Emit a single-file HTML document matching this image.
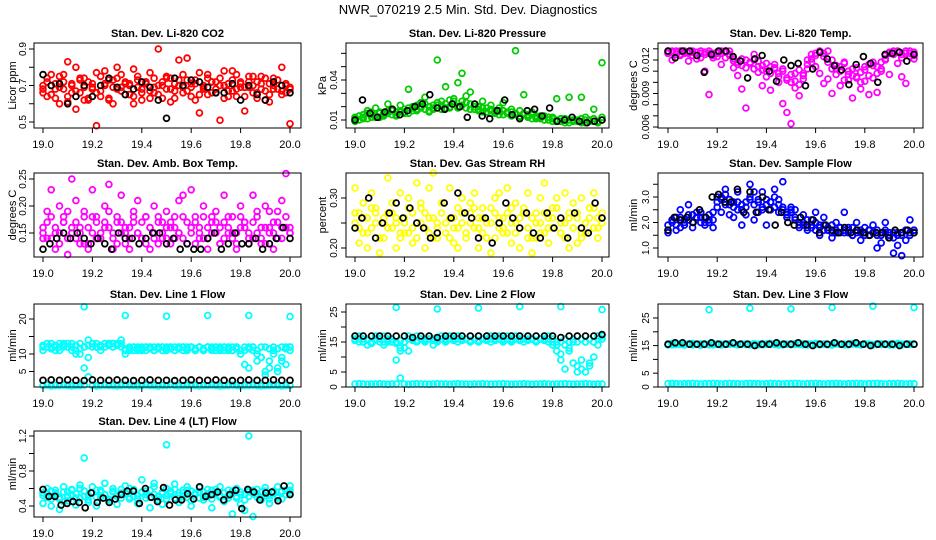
<!DOCTYPE html>
<html><head><meta charset="utf-8"><style>
html,body{margin:0;padding:0;background:#fff;}
svg{display:block;font-family:"Liberation Sans",sans-serif;}
</style></head><body>
<svg id="chart" width="936" height="540" viewBox="0 0 936 540" xmlns="http://www.w3.org/2000/svg">
<rect x="0" y="0" width="936" height="540" fill="#fff"/>
<text x="468" y="14" text-anchor="middle" font-size="13">NWR_070219  2.5 Min. Std. Dev. Diagnostics</text>
</svg>
<script>
// ---- data ----
const xTicks = [19.0, 19.2, 19.4, 19.6, 19.8, 20.0];
const xTickLabels = ["19.0", "19.2", "19.4", "19.6", "19.8", "20.0"];

const co2A = [0.66,0.72,0.70,0.63,0.75,0.68,0.61,0.71,0.80,0.66,0.74,0.62,0.69,0.77,0.64,0.70,0.73,0.60,0.68,0.76,0.71,0.65,0.79,0.69,0.62,0.72,0.67,0.74,0.70,0.63,0.75,0.68,0.71,0.84,0.66,0.73,0.69,0.62,0.77,0.70,0.65,0.72,0.68,0.74,0.63,0.71,0.67,0.76,0.69,0.64,0.72,0.70,0.66,0.75,0.62,0.71,0.68,0.73,0.65,0.70,0.69];
const co2B = [0.70,0.64,0.76,0.68,0.60,0.72,0.83,0.66,0.57,0.74,0.69,0.63,0.71,0.48,0.67,0.78,0.62,0.73,0.80,0.69,0.65,0.71,0.60,0.75,0.68,0.72,0.63,0.66,0.90,0.70,0.74,0.61,0.67,0.73,0.69,0.85,0.64,0.71,0.55,0.68,0.76,0.72,0.66,0.51,0.70,0.64,0.78,0.68,0.72,0.56,0.69,0.75,0.63,0.71,0.67,0.61,0.74,0.68,0.80,0.66,0.49];
const co2C = [0.68,0.74,0.65,0.71,0.69,0.76,0.64,0.70,0.67,0.73,0.62,0.72,0.68,0.66,0.75,0.71,0.63,0.69,0.74,0.67,0.72,0.70,0.64,0.73,0.66,0.71,0.77,0.69,0.65,0.72,0.68,0.74,0.63,0.70,0.76,0.67,0.71,0.73,0.65,0.69,0.74,0.66,0.72,0.70,0.78,0.67,0.73,0.64,0.71,0.69,0.75,0.66,0.72,0.68,0.74,0.65,0.70,0.73,0.67,0.71,0.68];
const co2K = [0.76,0.70,0.71,0.60,0.64,0.70,0.64,0.70,0.74,0.69,0.65,0.68,0.72,0.69,0.62,0.52,0.74,0.70,0.73,0.72,0.69,0.66,0.66,0.71,0.62,0.70,0.65,0.62,0.72,0.70,0.66];

const prA = [0.012,0.010,0.014,0.011,0.016,0.013,0.012,0.015,0.017,0.014,0.013,0.016,0.018,0.015,0.019,0.017,0.020,0.018,0.016,0.019,0.021,0.018,0.022,0.020,0.024,0.019,0.021,0.023,0.018,0.020,0.017,0.019,0.016,0.018,0.015,0.017,0.014,0.016,0.013,0.015,0.012,0.014,0.013,0.011,0.013,0.012,0.010,0.012,0.011,0.009,0.011,0.010,0.008,0.010,0.009,0.011,0.008,0.010,0.009,0.008,0.012];
const prB = [0.009,0.013,0.011,0.017,0.012,0.019,0.015,0.013,0.022,0.017,0.014,0.021,0.016,0.033,0.020,0.018,0.023,0.027,0.017,0.021,0.055,0.024,0.035,0.019,0.026,0.038,0.045,0.028,0.031,0.022,0.018,0.024,0.016,0.021,0.017,0.019,0.023,0.015,0.018,0.062,0.017,0.029,0.014,0.016,0.011,0.013,0.010,0.012,0.009,0.026,0.011,0.008,0.027,0.010,0.009,0.027,0.012,0.010,0.018,0.009,0.053];
const prC = [0.011,0.013,0.012,0.015,0.014,0.012,0.016,0.014,0.015,0.018,0.016,0.017,0.015,0.019,0.017,0.021,0.019,0.022,0.020,0.018,0.023,0.021,0.019,0.025,0.022,0.020,0.024,0.019,0.022,0.018,0.020,0.016,0.019,0.017,0.016,0.014,0.017,0.015,0.016,0.014,0.013,0.015,0.012,0.014,0.012,0.011,0.013,0.010,0.012,0.010,0.009,0.011,0.010,0.009,0.010,0.008,0.010,0.009,0.011,0.008,0.010];
const prK = [0.010,0.025,0.015,0.012,0.016,0.018,0.014,0.017,0.020,0.022,0.029,0.019,0.018,0.022,0.020,0.012,0.022,0.013,0.011,0.017,0.025,0.014,0.011,0.017,0.018,0.013,0.019,0.009,0.010,0.012,0.009,0.008,0.009,0.010];

const tmA = [0.0128,0.0127,0.0125,0.0128,0.0126,0.0127,0.0128,0.0124,0.0122,0.0127,0.0128,0.0126,0.0123,0.0128,0.0127,0.0125,0.0121,0.0118,0.0115,0.0120,0.0117,0.0112,0.0119,0.0115,0.0110,0.0114,0.0116,0.0108,0.0112,0.0104,0.0100,0.0108,0.0098,0.0103,0.0112,0.0118,0.0124,0.0127,0.0126,0.0128,0.0120,0.0115,0.0110,0.0117,0.0107,0.0112,0.0104,0.0109,0.0114,0.0106,0.0118,0.0108,0.0112,0.0121,0.0126,0.0128,0.0127,0.0125,0.0128,0.0126,0.0127];
const tmB = [0.0126,0.0120,0.0128,0.0124,0.0127,0.0119,0.0127,0.0121,0.0126,0.0110,0.0089,0.0124,0.0126,0.0116,0.0122,0.0128,0.0113,0.0106,0.0094,0.0077,0.0117,0.0125,0.0109,0.0097,0.0105,0.0093,0.0112,0.0100,0.0081,0.0073,0.0063,0.0095,0.0088,0.0108,0.0120,0.0125,0.0114,0.0108,0.0099,0.0103,0.0090,0.0112,0.0097,0.0118,0.0102,0.0086,0.0105,0.0094,0.0101,0.0089,0.0115,0.0091,0.0110,0.0120,0.0107,0.0126,0.0117,0.0105,0.0099,0.0123,0.0121];
const tmC = [0.0126,0.0128,0.0127,0.0125,0.0128,0.0126,0.0124,0.0127,0.0128,0.0125,0.0126,0.0122,0.0127,0.0126,0.0128,0.0124,0.0119,0.0116,0.0121,0.0113,0.0118,0.0120,0.0114,0.0111,0.0117,0.0108,0.0113,0.0105,0.0110,0.0102,0.0107,0.0101,0.0111,0.0106,0.0116,0.0121,0.0126,0.0128,0.0123,0.0118,0.0112,0.0107,0.0114,0.0102,0.0110,0.0106,0.0113,0.0100,0.0111,0.0116,0.0104,0.0114,0.0118,0.0124,0.0127,0.0125,0.0128,0.0122,0.0126,0.0128,0.0124];
const tmK = [0.0128,0.0122,0.0128,0.0128,0.0124,0.0109,0.0125,0.0128,0.0128,0.0123,0.0119,0.0104,0.0121,0.0124,0.0110,0.0101,0.0120,0.0115,0.0117,0.0097,0.0112,0.0127,0.0121,0.0115,0.0111,0.0098,0.0116,0.0123,0.0117,0.0100,0.0125,0.0126,0.0127,0.0119,0.0125];

const amA = [0.16,0.14,0.18,0.15,0.13,0.17,0.19,0.15,0.14,0.16,0.18,0.13,0.15,0.17,0.14,0.16,0.19,0.15,0.13,0.17,0.16,0.14,0.18,0.15,0.17,0.13,0.16,0.14,0.18,0.15,0.16,0.17,0.14,0.15,0.18,0.13,0.16,0.17,0.15,0.14,0.16,0.18,0.15,0.13,0.17,0.16,0.14,0.15,0.18,0.16,0.13,0.17,0.15,0.14,0.16,0.19,0.15,0.17,0.14,0.16,0.15];
const amB = [0.14,0.19,0.23,0.12,0.20,0.17,0.11,0.25,0.21,0.13,0.19,0.12,0.23,0.18,0.14,0.20,0.24,0.12,0.17,0.22,0.15,0.12,0.19,0.21,0.14,0.18,0.12,0.20,0.17,0.14,0.19,0.13,0.16,0.21,0.22,0.13,0.23,0.18,0.14,0.20,0.12,0.17,0.19,0.13,0.22,0.15,0.18,0.12,0.20,0.17,0.14,0.22,0.19,0.13,0.20,0.16,0.12,0.19,0.21,0.26,0.16];
const amC = [0.15,0.17,0.14,0.16,0.15,0.18,0.14,0.16,0.17,0.15,0.13,0.16,0.18,0.14,0.15,0.17,0.16,0.14,0.18,0.15,0.13,0.16,0.17,0.15,0.14,0.18,0.16,0.15,0.13,0.17,0.14,0.16,0.18,0.15,0.14,0.17,0.15,0.13,0.16,0.18,0.14,0.15,0.17,0.16,0.14,0.18,0.15,0.13,0.16,0.17,0.15,0.14,0.18,0.16,0.13,0.15,0.17,0.14,0.16,0.18,0.15];
const amK = [0.12,0.13,0.14,0.15,0.14,0.15,0.14,0.13,0.14,0.13,0.12,0.15,0.14,0.14,0.13,0.14,0.15,0.15,0.13,0.14,0.12,0.13,0.12,0.12,0.14,0.15,0.12,0.13,0.15,0.13,0.13,0.14,0.12,0.13,0.14,0.16,0.14];

const rhA = [0.27,0.24,0.26,0.23,0.28,0.25,0.22,0.26,0.24,0.27,0.25,0.23,0.26,0.28,0.24,0.22,0.25,0.27,0.23,0.26,0.24,0.29,0.25,0.22,0.26,0.24,0.27,0.23,0.25,0.28,0.24,0.26,0.22,0.25,0.27,0.24,0.26,0.23,0.28,0.25,0.24,0.27,0.22,0.26,0.25,0.23,0.27,0.24,0.26,0.28,0.23,0.25,0.27,0.24,0.26,0.22,0.25,0.28,0.24,0.26,0.25];
const rhB = [0.32,0.21,0.29,0.20,0.31,0.27,0.19,0.22,0.34,0.29,0.20,0.31,0.23,0.30,0.21,0.33,0.28,0.20,0.32,0.35,0.22,0.29,0.25,0.32,0.21,0.20,0.30,0.23,0.29,0.31,0.20,0.28,0.22,0.19,0.30,0.31,0.23,0.32,0.21,0.29,0.20,0.27,0.31,0.19,0.22,0.30,0.33,0.21,0.28,0.30,0.23,0.31,0.20,0.29,0.21,0.30,0.23,0.28,0.31,0.22,0.27];
const rhC = [0.25,0.27,0.23,0.26,0.24,0.28,0.22,0.25,0.27,0.24,0.26,0.22,0.25,0.23,0.27,0.25,0.29,0.24,0.26,0.22,0.25,0.27,0.23,0.26,0.24,0.28,0.25,0.22,0.27,0.24,0.26,0.23,0.25,0.28,0.22,0.26,0.24,0.27,0.25,0.23,0.26,0.28,0.24,0.22,0.27,0.25,0.23,0.26,0.24,0.28,0.25,0.22,0.26,0.24,0.27,0.23,0.25,0.26,0.28,0.24,0.26];
const rhK = [0.24,0.26,0.30,0.22,0.25,0.27,0.29,0.26,0.28,0.25,0.24,0.22,0.23,0.29,0.26,0.31,0.27,0.26,0.22,0.26,0.21,0.25,0.29,0.26,0.24,0.27,0.23,0.22,0.27,0.24,0.26,0.22,0.27,0.24,0.23,0.29,0.26];

const sfA = [1.9,2.0,2.2,1.8,2.1,2.3,2.0,2.4,2.2,2.0,2.3,2.1,2.6,2.9,3.1,2.7,2.8,2.5,2.7,2.6,2.9,3.2,2.8,2.6,2.9,2.5,3.0,2.7,2.6,2.4,2.5,2.2,2.0,1.9,2.1,1.8,2.0,1.9,1.7,1.8,1.9,1.6,1.8,1.7,1.6,1.8,1.7,1.6,1.5,1.7,1.6,1.5,1.6,1.7,1.5,1.6,1.5,1.6,1.7,1.5,1.6];
const sfB = [1.6,2.1,1.7,2.5,1.9,2.7,1.8,2.2,2.4,1.9,2.0,1.8,3.0,2.4,3.3,2.3,2.2,3.2,1.9,2.3,3.5,2.1,2.4,3.2,1.9,2.8,3.3,2.4,3.6,2.2,2.6,2.5,1.8,2.3,1.7,2.1,2.4,1.5,2.2,1.7,1.4,2.0,1.6,2.4,1.8,1.5,2.0,1.3,1.8,1.7,1.9,1.0,1.2,2.0,1.4,0.8,1.1,0.7,1.3,2.1,1.7];
const sfC = [1.7,2.1,1.9,2.2,2.0,2.1,2.3,2.2,2.0,2.2,2.1,2.4,2.8,3.0,2.7,2.9,2.6,2.8,2.5,2.8,3.0,2.7,2.9,2.5,2.7,2.8,2.6,2.9,2.5,2.3,2.4,2.1,1.9,2.0,1.8,1.9,1.7,1.8,1.9,1.7,1.6,1.7,1.8,1.6,1.7,1.5,1.6,1.7,1.6,1.5,1.6,1.7,1.5,1.6,1.6,1.4,1.6,1.5,1.7,1.6,1.7];
const sfK = [1.7,2.2,2.1,2.2,2.0,2.5,2.2,3.0,3.1,2.8,2.8,3.3,2.4,3.2,2.4,3.0,2.5,1.9,2.4,2.0,1.9,2.2,1.9,2.1,1.6,1.9,1.7,1.6,1.8,1.6,1.7,1.6,1.5,1.6,1.6,1.4,1.7,1.6,1.7,1.6];

const l1A = [12,13,12,11,13,12,12,13,11,10,12,14,13,12,11,12,13,12,13,14,11,12,11,12,11,12,12,11,12,11,12,12,11,12,11,12,12,11,12,11,12,12,11,12,11,12,11,12,10,7,12,11,8,9,4,6,10,5,8,7,12];
const l1B = [11,12,13,12,11,13,12,11,10,13,6,9,12,13,12,12,13,12,13,12,10,11,12,11,12,11,12,11,12,12,11,12,11,12,12,11,12,11,12,11,12,11,12,11,12,11,11,12,10,11,6,12,10,9,5,8,11,6,9,12,11];
const l1C = [12.5,12,11.5,12.5,12,12.5,13,12,12.5,11.5,12,12.5,13,12,12.5,13,12.5,13,12.5,13,11.5,11.5,12,11.5,11.5,12,11.5,12,11.5,12,11.5,11.5,12,11.5,12,11.5,12,11.5,12,11.5,12,11.5,12,11.5,12,11.5,12,11.5,11,12,11.5,12,11,12,12,11.5,12,11.5,12,11.5,12];
const l1Low = [1.0,1.1,0.9,1.0,1.0,1.1,1.0,0.9,1.0,1.0,1.1,3.5,1.0,0.9,1.0,1.1,1.0,1.0,0.9,1.0,1.1,1.0,1.0,0.9,1.0,1.1,1.0,1.0,0.9,1.0,1.0,1.1,1.0,0.9,1.0,1.0,1.1,1.0,0.9,1.0,1.0,1.1,1.0,0.9,1.0,1.0,1.1,1.0,0.9,1.0,1.0,1.1,1.0,0.9,1.0,1.0,1.1,1.0,0.9,1.0,1.0];
const l1K = [2.5,2.6,2.5,2.6,2.5,2.4,2.6,2.5,2.5,2.6,2.5,2.4,2.5,2.6,2.5,2.5,2.4,2.5,2.6,2.5,2.5,2.6,2.5,2.4,2.5,2.6,2.5,2.5,2.6,2.5,2.5];
const l1OutX = [19.167,19.333,19.5,19.667,19.833,20.0];
const l1OutY = [23.5,21.0,20.8,21.0,21.0,20.7];

const l2A = [16,15,15,14,15,16,15,14,15,16,15,12,13,12,16,15,16,15,16,16,15,16,15,16,16,15,16,16,15,16,15,16,16,15,16,16,15,16,15,16,16,15,16,16,15,16,16,15,14,12,9,6,13,8,5,6,15,8,10,14,16];
const l2B = [17,17,16,16,15,17,16,17,16,15,9,13,15,17,16,17,16,16,17,14,16,17,16,17,16,17,17,16,17,16,17,16,17,17,16,17,16,17,16,17,17,16,17,16,17,16,17,17,16,15,11,14,12,15,7,9,5,7,15,17,17];
const l2C = [15.5,16,15,15.5,14.5,15.5,16,15,15.5,15,14.5,15.5,15,16,15.5,15.5,16,15.5,16,15.5,15.5,16,15.5,16,15.5,16,15.5,16,15.5,16,15.5,16,15.5,16,15.5,16,15.5,16,15.5,16,15.5,16,15.5,16,15.5,16,15.5,16,15,14,15,16,15,16,15,16,15,16,15,16,16];
const l2Low = [1.0,1.1,1.0,0.9,1.0,1.0,1.1,1.0,0.9,1.0,1.0,3.0,1.0,0.9,1.0,1.1,1.0,1.0,0.9,1.0,1.1,1.0,1.0,0.9,1.0,1.1,1.0,1.0,0.9,1.0,1.0,1.1,1.0,0.9,1.0,1.0,1.1,1.0,0.9,1.0,1.0,1.1,1.0,0.9,1.0,1.0,1.1,1.0,0.9,1.0,1.0,1.1,1.0,0.9,1.0,1.0,1.1,1.0,0.9,1.0,1.0];
const l2K = [17,17,17,17,17,17,17,16.5,17,17,16.5,17,17,17,17,17,17,17,17,17,17,17,17,17,17,16.5,17,17,17,17,17.5];
const l2OutX = [19.167,19.333,19.5,19.667,19.833,20.0];
const l2OutY = [26.5,26.0,26.3,26.8,26.8,25.8];

const l3A = [15.5,15.3,15.6,15.4,15.5,15.7,15.3,15.5,15.6,15.4,15.5,15.3,15.6,15.5,15.4,15.6,15.5,15.3,15.5,15.6,15.4,15.5,15.3,15.6,15.5,15.4,15.6,15.5,15.3,15.5,15.6,15.4,15.5,15.3,15.6,15.5,15.4,15.6,15.5,15.3,15.5,15.6,15.4,15.5,15.3,15.6,15.5,15.4,15.6,15.5,15.3,15.5,15.6,15.4,15.5,15.3,15.6,15.5,15.4,15.6,15.5];
const l3B = [15.2,15.8,15.4,15.6,15.2,15.5,15.8,15.4,15.1,15.6,15.3,15.7,15.4,15.2,15.6,15.5,15.8,15.3,15.6,15.4,15.2,15.7,15.5,15.3,15.6,15.8,15.4,15.2,15.6,15.5,15.3,15.7,15.4,15.6,15.2,15.5,15.8,15.3,15.6,15.4,15.2,15.7,15.5,15.3,15.6,15.8,15.4,15.2,15.6,15.5,15.3,15.7,15.4,15.6,15.2,15.5,15.8,15.3,15.6,15.4,15.5];
const l3Low = [1.2,1.3,1.2,1.1,1.2,1.2,1.3,1.2,1.1,1.2,1.2,1.3,1.2,1.1,1.2,1.3,1.2,1.2,1.1,1.2,1.3,1.2,1.2,1.1,1.2,1.3,1.2,1.2,1.1,1.2,1.2,1.3,1.2,1.1,1.2,1.2,1.3,1.2,1.1,1.2,1.2,1.3,1.2,1.1,1.2,1.2,1.3,1.2,1.1,1.2,1.2,1.3,1.2,1.1,1.2,1.2,1.3,1.2,1.1,1.2,1.2];
const l3K = [15.5,16.0,16.0,15.5,15.5,15.5,16.0,15.5,15.5,16.0,15.5,15.5,15.0,15.5,15.5,16.0,15.5,15.5,16.0,15.5,15.0,15.5,15.5,16.0,15.5,15.5,16.0,15.5,15.0,15.5,15.5,15.5,15.0,15.5,15.5];
const l3OutX = [19.167,19.333,19.5,19.667,19.833,20.0];
const l3OutY = [28.0,28.5,28.3,28.8,29.3,28.8];

const l4A = [0.52,0.55,0.48,0.58,0.50,0.45,0.56,0.53,0.49,0.60,0.51,0.47,0.55,0.58,0.50,0.53,0.46,0.57,0.52,0.49,0.55,0.60,0.51,0.48,0.56,0.53,0.50,0.62,0.47,0.54,0.52,0.57,0.49,0.55,0.51,0.58,0.46,0.53,0.56,0.50,0.54,0.48,0.59,0.52,0.55,0.49,0.57,0.51,0.53,0.47,0.58,0.54,0.50,0.56,0.52,0.48,0.55,0.51,0.57,0.53,0.55];
const l4B = [0.43,0.60,0.40,0.55,0.36,0.62,0.46,0.58,0.41,0.64,0.57,0.44,0.62,0.40,0.56,0.66,0.45,0.60,0.42,0.55,0.63,0.48,0.59,0.43,0.70,0.57,0.38,0.66,0.50,0.42,0.60,0.55,0.65,0.44,0.58,0.62,0.40,0.55,0.61,0.47,0.59,0.38,0.56,0.62,0.45,0.58,0.31,0.60,0.42,0.35,0.56,0.28,0.59,0.47,0.61,0.43,0.57,0.62,0.48,0.58,0.63];
const l4C = [0.55,0.50,0.57,0.53,0.48,0.56,0.51,0.59,0.54,0.49,0.57,0.52,0.55,0.50,0.58,0.53,0.48,0.56,0.51,0.59,0.54,0.50,0.57,0.52,0.55,0.49,0.58,0.53,0.51,0.56,0.48,0.54,0.59,0.52,0.55,0.50,0.57,0.53,0.49,0.56,0.51,0.58,0.54,0.50,0.55,0.52,0.57,0.49,0.56,0.53,0.51,0.58,0.54,0.50,0.57,0.52,0.55,0.49,0.56,0.53,0.58];
const l4K = [0.59,0.51,0.51,0.41,0.43,0.45,0.44,0.38,0.55,0.44,0.49,0.44,0.48,0.53,0.57,0.57,0.43,0.60,0.50,0.45,0.61,0.41,0.47,0.47,0.54,0.48,0.62,0.51,0.53,0.56,0.47,0.53,0.58,0.37,0.59,0.56,0.47,0.55,0.56,0.46,0.63,0.53];
const l4OutX = [19.167,19.5,19.833];
const l4OutY = [0.95,1.10,1.20];

// ---- layout ----
const svg = document.getElementById('chart');
const NS = 'http://www.w3.org/2000/svg';
const cols = [{bl:34,br:301,x0:43,x1:290,lab:22,ax:12},{bl:346,br:609,x0:355,x1:602,lab:333,ax:322},{bl:658,br:923,x0:668,x1:914,lab:645,ax:633}];
const rows = [{bt:43,bb:128},{bt:173,bb:257},{bt:304,bb:387},{bt:431,bb:517}];

function el(tag, attrs, parent){const e=document.createElementNS(NS,tag);for(const k in attrs)e.setAttribute(k,attrs[k]);(parent||svg).appendChild(e);return e;}

function panel(p){
  const c=cols[p.col], r=rows[p.row];
  const g=el('g',{});
  
  
  const sx=v=>c.x0+(v-19)*(c.x1-c.x0);
  const sy=v=>p.py0+(v-p.v0)*(p.py1-p.py0)/(p.v1-p.v0);
  const t=el('text',{x:(c.bl+c.br)/2,y:r.bt-6,'text-anchor':'middle','font-size':'11','font-weight':'bold'},g);
  t.textContent=p.title;
  
  
  p.series.forEach(s=>{
    const sg=el('g',{fill:'none',stroke:s.color,'stroke-width':'1.8'},g);
    
    
    s.y.forEach((v,i)=>{
      const xv = s.x ? s.x[i] : 19 + i/(s.y.length-1);
      const cy=sy(v);
      if(cy<r.bt-2||cy>r.bb+2) return;
      const pt=el('circle',{cx:sx(xv).toFixed(1),cy:cy.toFixed(1),r:'2.9'},sg);
      
      
    });
  });
  const b=el('rect',{x:c.bl,y:r.bt,width:c.br-c.bl,height:r.bb-r.bt,fill:'none',stroke:'#000','stroke-width':'1'},g);
  
  
  xTicks.forEach((v,i)=>{
    const x=sx(v);
    el('line',{x1:x,x2:x,y1:r.bb,y2:r.bb+5,stroke:'#000'},g);
    const tl=el('text',{x:x,y:r.bb+20,'text-anchor':'middle','font-size':'11'},g);
    tl.textContent=xTickLabels[i];
    
    
  });
  p.yTicks.forEach(v=>{
    const y=sy(v);
    el('line',{x1:c.bl-5,x2:c.bl,y1:y,y2:y,stroke:'#000'},g);
  });
  p.yLabels.forEach((lab,i)=>{
    const y=sy(p.yLabelVals[i]);
    const tl=el('text',{x:0,y:0,'text-anchor':'middle','font-size':'10',transform:`translate(${c.lab+4},${y}) rotate(-90)`},g);
    tl.textContent=lab;
    
    
  });
  const al=el('text',{x:0,y:0,'text-anchor':'middle','font-size':'11',transform:`translate(${c.ax+4},${(r.bt+r.bb)/2}) rotate(-90)`},g);
  al.textContent=p.ylab;
  
  
}

const RED='#ff0000',GRN='#00cc00',MAG='#ff00ff',YEL='#ffff00',BLU='#0000ff',CYN='#00ffff',BLK='#000000';
panel({name:'panel-co2',col:0,row:0,title:'Stan. Dev. Li-820 CO2',ylab:'Licor ppm',v0:0.5,py0:122,v1:0.9,py1:49,
  yTicks:[0.5,0.6,0.7,0.8,0.9],yLabelVals:[0.5,0.7,0.9],yLabels:['0.5','0.7','0.9'],
  series:[{name:'co2-series-a',color:RED,y:co2A},{name:'co2-series-b',color:RED,y:co2B},{name:'co2-series-c',color:RED,y:co2C},{name:'co2-black-series',color:BLK,y:co2K}]});
panel({name:'panel-pressure',col:1,row:0,title:'Stan. Dev. Li-820 Pressure',ylab:'kPa',v0:0.01,py0:120,v1:0.04,py1:80,
  yTicks:[0.01,0.02,0.03,0.04,0.05,0.06],yLabelVals:[0.01,0.04],yLabels:['0.01','0.04'],
  series:[{name:'pressure-series-a',color:GRN,y:prA},{name:'pressure-series-b',color:GRN,y:prB},{name:'pressure-series-c',color:GRN,y:prC},{name:'pressure-black-series',color:BLK,y:prK}]});
panel({name:'panel-li820-temp',col:2,row:0,title:'Stan. Dev. Li-820 Temp.',ylab:'degrees C',v0:0.006,py0:127,v1:0.012,py1:60,
  yTicks:[0.006,0.007,0.008,0.009,0.010,0.011,0.012,0.013],yLabelVals:[0.006,0.009,0.012],yLabels:['0.006','0.009','0.012'],
  series:[{name:'temp-series-a',color:MAG,y:tmA},{name:'temp-series-b',color:MAG,y:tmB},{name:'temp-series-c',color:MAG,y:tmC},{name:'temp-black-series',color:BLK,y:tmK}]});
panel({name:'panel-amb-box-temp',col:0,row:1,title:'Stan. Dev. Amb. Box Temp.',ylab:'degrees C',v0:0.15,py0:233,v1:0.25,py1:179,
  yTicks:[0.15,0.20,0.25],yLabelVals:[0.15,0.20,0.25],yLabels:['0.15','0.20','0.25'],
  series:[{name:'amb-series-a',color:MAG,y:amA},{name:'amb-series-b',color:MAG,y:amB},{name:'amb-series-c',color:MAG,y:amC},{name:'amb-black-series',color:BLK,y:amK}]});
panel({name:'panel-gas-stream-rh',col:1,row:1,title:'Stan. Dev. Gas Stream RH',ylab:'percent',v0:0.20,py0:248,v1:0.30,py1:198,
  yTicks:[0.20,0.25,0.30],yLabelVals:[0.20,0.30],yLabels:['0.20','0.30'],
  series:[{name:'rh-series-a',color:YEL,y:rhA},{name:'rh-series-b',color:YEL,y:rhB},{name:'rh-series-c',color:YEL,y:rhC},{name:'rh-black-series',color:BLK,y:rhK}]});
panel({name:'panel-sample-flow',col:2,row:1,title:'Stan. Dev. Sample Flow',ylab:'ml/min',v0:1.0,py0:248,v1:3.0,py1:197,
  yTicks:[1.0,1.5,2.0,2.5,3.0,3.5],yLabelVals:[1.0,2.0,3.0],yLabels:['1.0','2.0','3.0'],
  series:[{name:'flow-series-a',color:BLU,y:sfA},{name:'flow-series-b',color:BLU,y:sfB},{name:'flow-series-c',color:BLU,y:sfC},{name:'flow-black-series',color:BLK,y:sfK}]});
panel({name:'panel-line1-flow',col:0,row:2,title:'Stan. Dev. Line 1 Flow',ylab:'ml/min',v0:10,py0:354,v1:20,py1:319,
  yTicks:[5,10,15,20],yLabelVals:[5,10,20],yLabels:['5','10','20'],
  series:[{name:'line1-series-a',color:CYN,y:l1A},{name:'line1-series-b',color:CYN,y:l1B},{name:'line1-series-c',color:CYN,y:l1C},{name:'line1-low-series',color:CYN,y:l1Low},{name:'line1-outliers',color:CYN,x:l1OutX,y:l1OutY},{name:'line1-black-series',color:BLK,y:l1K}]});
panel({name:'panel-line2-flow',col:1,row:2,title:'Stan. Dev. Line 2 Flow',ylab:'ml/min',v0:0,py0:387,v1:25,py1:312,
  yTicks:[0,5,10,15,20,25],yLabelVals:[0,5,15,25],yLabels:['0','5','15','25'],
  series:[{name:'line2-series-a',color:CYN,y:l2A},{name:'line2-series-b',color:CYN,y:l2B},{name:'line2-series-c',color:CYN,y:l2C},{name:'line2-low-series',color:CYN,y:l2Low},{name:'line2-outliers',color:CYN,x:l2OutX,y:l2OutY},{name:'line2-black-series',color:BLK,y:l2K}]});
panel({name:'panel-line3-flow',col:2,row:2,title:'Stan. Dev. Line 3 Flow',ylab:'ml/min',v0:0,py0:387,v1:25,py1:318,
  yTicks:[0,5,10,15,20,25],yLabelVals:[0,5,15,25],yLabels:['0','5','15','25'],
  series:[{name:'line3-series-a',color:CYN,y:l3A},{name:'line3-series-b',color:CYN,y:l3B},{name:'line3-low-series',color:CYN,y:l3Low},{name:'line3-outliers',color:CYN,x:l3OutX,y:l3OutY},{name:'line3-black-series',color:BLK,y:l3K}]});
panel({name:'panel-line4-flow',col:0,row:3,title:'Stan. Dev. Line 4 (LT) Flow',ylab:'ml/min',v0:0.4,py0:506,v1:1.2,py1:436,
  yTicks:[0.4,0.6,0.8,1.0,1.2],yLabelVals:[0.4,0.8,1.2],yLabels:['0.4','0.8','1.2'],
  series:[{name:'line4-series-a',color:CYN,y:l4A},{name:'line4-series-b',color:CYN,y:l4B},{name:'line4-series-c',color:CYN,y:l4C},{name:'line4-outliers',color:CYN,x:l4OutX,y:l4OutY},{name:'line4-black-series',color:BLK,y:l4K}]});
</script>
</body></html>
